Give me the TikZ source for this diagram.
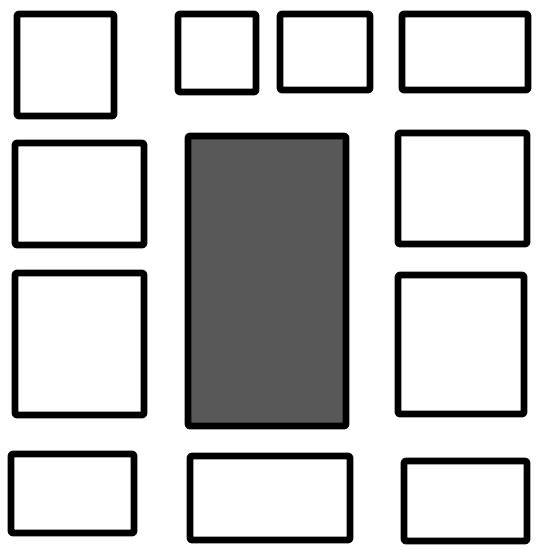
\documentclass[tikz,border=0pt]{standalone}
\usepackage{tikz}
\usetikzlibrary{positioning}
\definecolor{blockgray}{RGB}{88,88,88}
\tikzset{
  plotbox/.style={draw=black, line width=0.34cm, line cap=round, line join=round, rounded corners=0.1cm},
  plotboxG/.style={plotbox, fill=blockgray}
}
\begin{document}
\begin{tikzpicture}[x=0.05cm, y=-0.05cm]
  \useasboundingbox (0,0) rectangle (535,550);
  % Top row
  \draw[plotbox] (17,14) rectangle (114,116);
  \draw[plotbox] (178,14) rectangle (256,92);
  \draw[plotbox] (280,14) rectangle (370,90);
  \draw[plotbox] (402,14) rectangle (528,90);

  % Middle rows
  \draw[plotbox] (15,143) rectangle (144,245);
  \draw[plotboxG] (188,136) rectangle (346,426);
  \draw[plotbox] (398,133) rectangle (527,244);
  \draw[plotbox] (15,273) rectangle (144,415);
  \draw[plotbox] (398,275) rectangle (524,414);

  % Bottom row
  \draw[plotbox] (11,454) rectangle (134,533);
  \draw[plotbox] (190,456) rectangle (350,540);
  \draw[plotbox] (404,461) rectangle (527,541);
\end{tikzpicture}
\end{document}
